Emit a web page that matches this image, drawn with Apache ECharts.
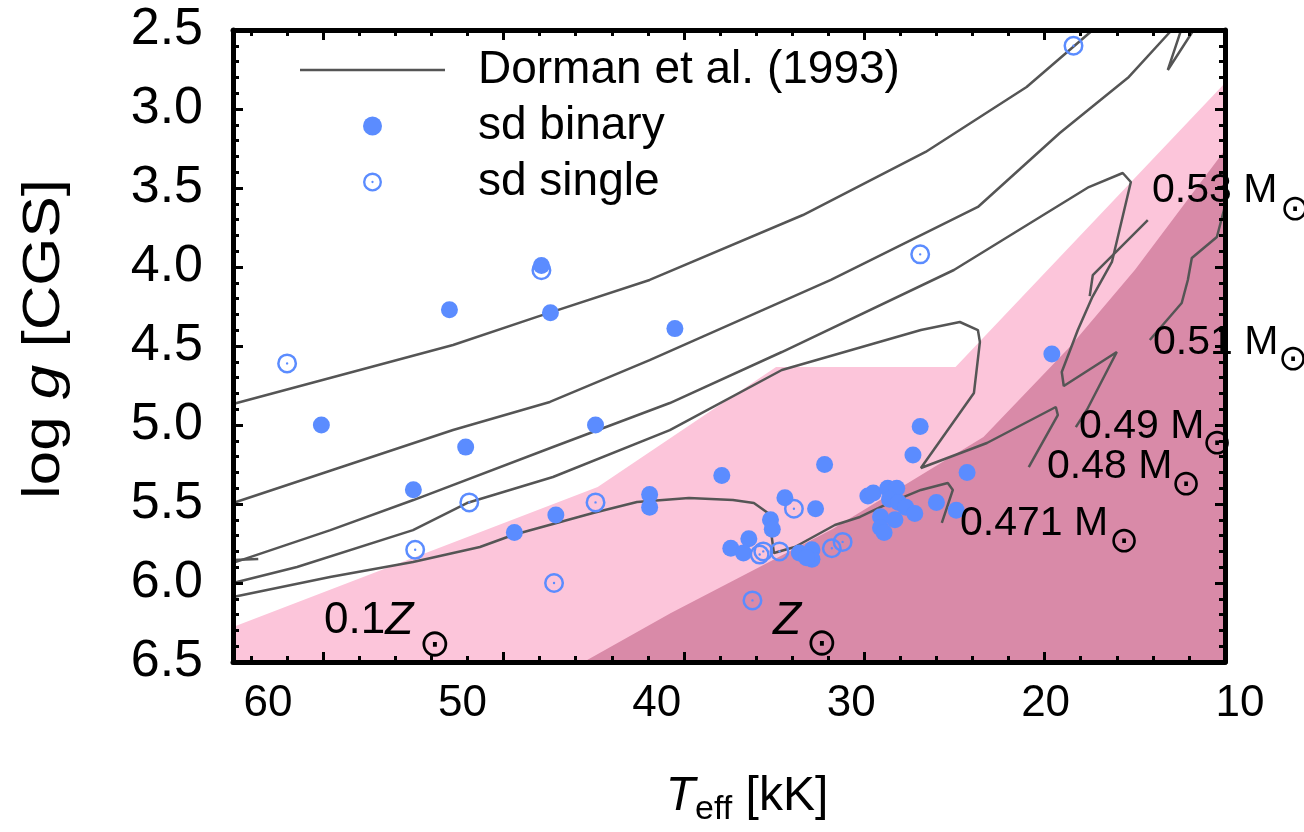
<!DOCTYPE html>
<html><head><meta charset="utf-8">
<script src="https://cdn.jsdelivr.net/npm/echarts@6/dist/echarts.min.js"></script>
<style>html,body{margin:0;padding:0;background:#fff}#c{width:1304px;height:832px}</style>
</head><body><div id="c"></div>
<script>
// ---------- data (Teff [kK], log g) ----------
const teffTickLabels = [60, 50, 40, 30, 20, 10];
const teffMajorTicks = [10, 20, 30, 40, 50, 60];
const teffMinorTicks = [12, 14, 16, 18, 22, 24, 26, 28, 32, 34, 36, 38, 42, 44, 46, 48, 52, 54, 56, 58, 62, 64];

const sdBinary = [
  [47.9,3.99],[53.0,4.27],[47.4,4.29],[40.5,4.39],[60.1,5.0],[52.1,5.14],[44.9,5.0],[55.0,5.41],
  [49.4,5.68],[47.1,5.57],[41.9,5.44],[41.9,5.52],[19.6,4.55],[26.9,5.01],[27.3,5.19],[32.2,5.25],
  [37.9,5.32],[24.3,5.30],[26.0,5.49],[24.9,5.54],[34.4,5.46],[32.7,5.53],[29.8,5.45],[29.5,5.43],
  [28.7,5.40],[28.2,5.40],[28.6,5.47],[28.1,5.49],[27.7,5.52],[27.2,5.56],[29.1,5.58],[29.1,5.65],
  [28.9,5.68],[28.3,5.60],[35.2,5.60],[35.1,5.66],[36.4,5.72],[37.4,5.78],[36.7,5.81],[33.6,5.81],
  [32.9,5.79],[32.9,5.85],[33.2,5.84]
];
const sdSingle = [
  [18.4,2.60],[26.9,3.92],[47.9,4.02],[62.0,4.61],[51.9,5.49],[54.9,5.79],[44.9,5.49],[47.2,6.00],
  [36.2,6.11],[33.9,5.53],[35.6,5.80],[35.8,5.82],[34.7,5.80],[31.8,5.78],[31.2,5.74]
];

const trackA = [[65,4.867],[52.8,4.494],[48.15,4.316],[41.9,4.082],[33.4,3.671],[26.6,3.272],[21.0,2.861],[17.33,2.5],[16.4,2.405]];
const trackB = [[65,5.494],[52.8,5.032],[47.43,4.854],[41.9,4.589],[31.85,4.082],[23.7,3.62],[19.16,3.152],[15.33,2.797],[12.95,2.5],[11.95,2.373]];
const trackC = [[65,5.873],[59.6,5.665],[55.0,5.475],[47.26,5.139],[40.78,4.861],[34.57,4.538],[25.03,4.019],[17.55,3.494],[15.67,3.405],[15.22,3.462],[16.27,3.968],[17.38,4.196],[18.16,4.399],[19.05,4.665],[18.94,4.753],[16.0,4.538],[17.66,4.905],[18.27,5.013]];
const trackCStub = [[65,5.854],[63.6,5.848]];
const trackV = [[14.28,3.703],[17.33,4.051],[17.5,4.184]];
const trackR = [[9.62,3.449],[10.45,3.81],[11.84,3.943],[12.06,4.082],[12.4,4.228],[14.17,4.462]];
const trackZig = [[12.34,2.468],[13.17,2.753],[11.56,2.468]];
const trackD = [[65,6.0],[61.45,5.899],[55.02,5.665],[52.03,5.494],[47.26,5.329],[40.78,5.032],[34.57,4.652],[26.86,4.399],[24.7,4.348],[23.7,4.399],[23.59,4.475],[23.92,4.797],[26.86,5.272],[23.2,5.114],[19.38,4.886],[19.27,4.937],[20.88,5.266]];
const trackE = [[65,6.089],[59.62,5.962],[55.02,5.867],[51.31,5.772],[49.48,5.696],[45.04,5.557],[42.6,5.487],[39.72,5.462],[37.28,5.475],[36.12,5.494],[35.34,5.557],[35.18,5.665],[35.01,5.81],[33.85,5.772],[31.63,5.633],[30.24,5.582],[28.64,5.494],[26.86,5.411],[25.37,5.367],[25.09,5.411],[25.7,5.62]];

const regionLowZ = [[65,6.278],[44.78,5.392],[34.89,4.633],[24.94,4.633],[10,2.835],[10,6.5],[65,6.5]];
const regionSolarZ = [[45.56,6.5],[40.72,6.19],[31.78,5.66],[23.39,5.076],[18.61,4.506],[15.0,4.019],[10,3.259],[10,6.5]];

const massLabels = ['0.53 M', '0.51 M', '0.49 M', '0.48 M', '0.471 M'];
const seriesNames = ['Dorman et al. (1993)', 'sd binary', 'sd single'];

// ---------- styling ----------
const FONT = 'Liberation Sans, Arial, Helvetica, sans-serif';
const BLUE = '#5b8cff';
const GRAY = '#555555';
const LIGHT = '#fcc5da';
const DARK = '#d98aa8';
const ringPath = 'path://M0,10A10,10 0 1,1 20,10A10,10 0 1,1 0,10ZM2.5,10A7.5,7.5 0 1,0 17.5,10A7.5,7.5 0 1,0 2.5,10ZM8.8,10A1.2,1.2 0 1,1 11.2,10A1.2,1.2 0 1,1 8.8,10Z';

function polygonRenderer(region, color) {
  return function (params, api) {
    return { type: 'polygon', shape: { points: region.map(p => api.coord(p)) }, style: { fill: color } };
  };
}

const chart = echarts.init(document.getElementById('c'), null, { renderer: 'canvas' });

const tickLine = { color: '#000', width: 3 };
function frameX(pos, major) {
  return {
    type: 'value', gridIndex: 0, min: 10, max: 65, inverse: true, position: pos, z: 10,
    axisLine: { show: major, onZero: false, lineStyle: { color: '#000', width: 5 } },
    axisTick: { show: true, inside: true, length: major ? 10 : 6, lineStyle: tickLine,
                customValues: major ? teffMajorTicks : teffMinorTicks },
    axisLabel: { show: false }, splitLine: { show: false }
  };
}
function frameY(pos, labels) {
  return {
    type: 'value', gridIndex: 0, min: 2.5, max: 6.5, interval: 0.5, inverse: true, position: pos, z: 10,
    axisLine: { show: true, onZero: false, lineStyle: { color: '#000', width: 5 } },
    axisTick: { show: true, inside: true, length: 10, lineStyle: tickLine },
    minorTick: { show: true, splitNumber: 5, length: 6, lineStyle: tickLine },
    splitLine: { show: false }, minorSplitLine: { show: false },
    axisLabel: { show: labels, fontSize: 52, fontFamily: FONT, color: '#000', margin: 30,
                 formatter: v => v.toFixed(1) }
  };
}

const lineTracks = [trackA, trackB, trackC, trackCStub, trackV, trackR, trackZig, trackD, trackE];

const series = [
  { type: 'custom', name: 'lowZ', silent: true, z: 1, xAxisIndex: 0, yAxisIndex: 0,
    renderItem: polygonRenderer(regionLowZ, LIGHT), data: [[10, 6.5]] },
  { type: 'custom', name: 'solarZ', silent: true, z: 1, xAxisIndex: 0, yAxisIndex: 0,
    renderItem: polygonRenderer(regionSolarZ, DARK), data: [[10, 6.5]] }
];
lineTracks.forEach(tr => series.push({
  type: 'line', name: seriesNames[0], data: tr, xAxisIndex: 0, yAxisIndex: 0, z: 3,
  symbol: 'none', clip: true, itemStyle: { color: GRAY },
  lineStyle: { color: GRAY, width: 2.5 }
}));
series.push({
  type: 'scatter', name: seriesNames[1], data: sdBinary, xAxisIndex: 0, yAxisIndex: 0, z: 4,
  symbol: 'circle', symbolSize: 17, itemStyle: { color: BLUE, opacity: 1 }
});
series.push({
  type: 'scatter', name: seriesNames[2], data: sdSingle, xAxisIndex: 0, yAxisIndex: 0, z: 5,
  symbol: ringPath, symbolSize: 20, itemStyle: { color: BLUE, opacity: 1 }
});

const labelPos = [[1152,191],[1153,343],[1079,427],[1047,467],[960,524]];
const sunPos = [[1295,211],[1293,361],[1217,445],[1186,486],[1124,543]];
const graphic = [];
massLabels.forEach((t, i) => {
  graphic.push({ type: 'text', x: labelPos[i][0], y: labelPos[i][1], z: 20,
    style: { text: t, fontSize: 41, fontFamily: FONT, fill: '#000', align: 'left', verticalAlign: 'middle' } });
  graphic.push({ type: 'text', x: sunPos[i][0], y: sunPos[i][1], z: 20,
    style: { text: '\u2299', fontSize: 36, fontFamily: 'DejaVu Sans', fill: '#000', align: 'center', verticalAlign: 'middle' } });
});
graphic.push({ type: 'text', x: 324, y: 621, z: 20,
  style: { text: '{n|0.1}{i|Z}', rich: { n: { fontSize: 44, fontFamily: FONT, fill: '#000' }, i: { fontSize: 46, fontFamily: FONT, fontStyle: 'italic', fill: '#000' } },
           align: 'left', verticalAlign: 'middle' } });
graphic.push({ type: 'text', x: 435, y: 646, z: 20,
  style: { text: '\u2299', fontSize: 38, fontFamily: 'DejaVu Sans', fill: '#000', align: 'center', verticalAlign: 'middle' } });
graphic.push({ type: 'text', x: 773, y: 621, z: 20,
  style: { text: 'Z', fontSize: 46, fontFamily: FONT, fontStyle: 'italic', fill: '#000', align: 'left', verticalAlign: 'middle' } });
graphic.push({ type: 'text', x: 822, y: 645, z: 20,
  style: { text: '\u2299', fontSize: 38, fontFamily: 'DejaVu Sans', fill: '#000', align: 'center', verticalAlign: 'middle' } });
// axis titles
graphic.push({ type: 'text', x: 747, y: 797, z: 20,
  style: { text: '{t|T}{s|eff}{n| [kK]}',
    rich: { t: { fontSize: 48, fontFamily: FONT, fontStyle: 'italic', lineHeight: 60, fill: '#000' },
            s: { fontSize: 34, fontFamily: FONT, lineHeight: 34, verticalAlign: 'bottom', fill: '#000' },
            n: { fontSize: 48, fontFamily: FONT, lineHeight: 60, fill: '#000' } },
    align: 'center', verticalAlign: 'middle' } });
graphic.push({ type: 'text', x: 45, y: 339, rotation: Math.PI / 2, scaleX: 1.19, z: 20,
  style: { text: '{n|log }{i|g}{n| [CGS]}',
    rich: { n: { fontSize: 52, fontFamily: FONT, fill: '#000' }, i: { fontSize: 52, fontFamily: FONT, fontStyle: 'italic', fill: '#000' } },
    align: 'center', verticalAlign: 'middle' } });

chart.setOption({
  animation: false,
  backgroundColor: '#fff',
  grid: [
    { left: 233, right: 79, top: 30, bottom: 170, containLabel: false },
    { left: 233, right: 54, top: 30, bottom: 170, containLabel: false }
  ],
  xAxis: [
    frameX('bottom', true), frameX('bottom', false), frameX('top', true), frameX('top', false),
    { type: 'value', gridIndex: 1, min: 9.486, max: 61.8, inverse: true, position: 'bottom', z: 10,
      axisLine: { show: false }, axisTick: { show: false }, splitLine: { show: false },
      axisLabel: { show: true, customValues: teffTickLabels, fontSize: 44, fontFamily: FONT, color: '#000', margin: 20 } }
  ],
  yAxis: [
    frameY('left', true), frameY('right', false),
    { type: 'value', gridIndex: 1, min: 2.5, max: 6.5, show: false }
  ],
  legend: {
    left: 300, top: 42, orient: 'vertical', padding: 0, itemGap: 0, itemWidth: 145, itemHeight: 19,
    selectedMode: false,
    data: [
      { name: seriesNames[0], icon: 'path://M0,0H58V1H0Z' },
      { name: seriesNames[1], icon: 'circle' },
      { name: seriesNames[2], icon: ringPath }
    ],
    textStyle: { fontSize: 46, lineHeight: 56, color: '#000', fontFamily: FONT, padding: [0, 0, 0, 28] }
  },
  graphic: graphic,
  series: series
});
</script>
</body></html>
